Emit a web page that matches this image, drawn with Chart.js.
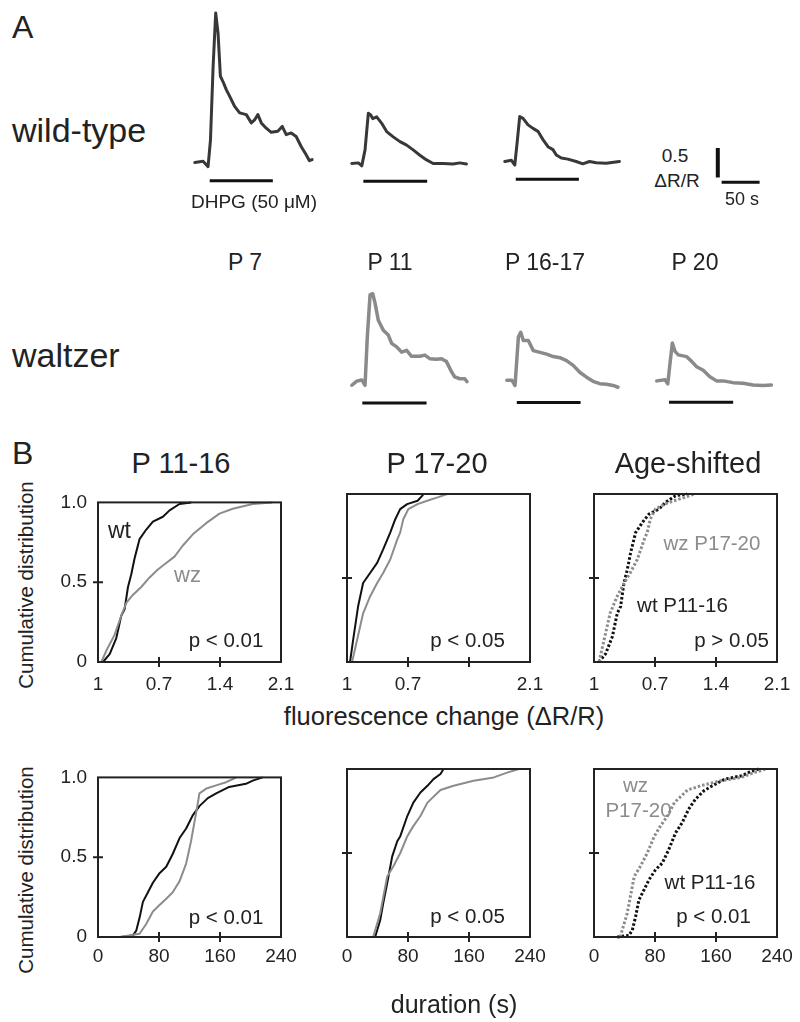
<!DOCTYPE html>
<html>
<head>
<meta charset="utf-8">
<script src="https://cdn.jsdelivr.net/npm/chart.js@4.4.1/dist/chart.umd.min.js"></script>
<style>
  body { margin: 0; background: #fff; }
  #fig { position: relative; width: 800px; height: 1022px; overflow: hidden; background: #fff;
         font-family: "Liberation Sans", Arial, sans-serif; color: #222; }
  #fig canvas { position: absolute; }
  .lbl { position: absolute; white-space: nowrap; line-height: 1; transform: translate(-50%, -50%); }
  .lbl.left { transform: translate(0, -50%); }
  .lbl.rot { transform: translate(-50%, -50%) rotate(-90deg); }
  .lbl.gray { color: #8c8c8c; }
</style>
</head>
<body>
<div id="fig"></div>
<script>
const FONT = '"Liberation Sans", Arial, sans-serif';
Chart.defaults.font.family = FONT;
Chart.defaults.color = '#222';

// Panel A traces: [time (s), ΔR/R]
const wtP7 = [[0,0],[10.9,0.02],[17.5,-0.07],[20.7,0.38],[24.2,1.63],[27.6,2.53],[30.7,2.19],[33.8,1.46],[37.2,1.37],[41.7,1.23],[46.1,1.12],[52.6,0.95],[59.2,0.84],[68,0.81],[74.6,0.67],[78.9,0.72],[83.3,0.81],[87.8,0.67],[94.3,0.58],[100.9,0.51],[109.6,0.53],[115.4,0.61],[120.7,0.47],[127.2,0.5],[133.8,0.44],[140.4,0.27],[147,0.13],[151.3,0.03],[154.9,0.05]];
const wtP11 = [[0,0],[8.7,0.01],[13.2,-0.04],[17.5,0.23],[21.8,0.85],[25,0.82],[27.6,0.76],[32.9,0.79],[39.5,0.68],[46,0.54],[54.7,0.45],[63.6,0.37],[72.4,0.31],[81,0.23],[89.9,0.14],[98.7,0.06],[107.4,0],[120.5,0],[133.7,-0.01],[142.5,0.01],[151.3,-0.01]];
const wtP1617 = [[0,0],[8.8,0.02],[13.2,-0.06],[16.7,0.37],[19.7,0.76],[24.1,0.73],[30.7,0.62],[37.2,0.56],[43.8,0.51],[50.4,0.37],[57,0.25],[63.6,0.2],[68,0.11],[74.6,0.06],[83.3,0.04],[94.3,0],[103,-0.04],[111.8,0],[120.7,-0.02],[133.8,-0.03],[151.3,0]];
const wzP11 = [[0,-0.03],[6.6,0.04],[13.2,0.06],[17.5,-0.03],[20.5,0.79],[24.1,1.5],[27.6,1.52],[30.7,1.36],[35,1.07],[41.6,0.9],[48.2,0.82],[52.6,0.68],[59.2,0.62],[65.8,0.53],[72.4,0.56],[78.9,0.46],[89.9,0.46],[96.4,0.48],[103,0.42],[111.8,0.41],[118.4,0.42],[125,0.37],[131.6,0.2],[135.9,0.11],[142.5,0.08],[149.1,0.08],[152.1,0.03]];
const wzP1617 = [[0,0.09],[6.6,0.09],[10.9,0],[15.3,0.82],[18.4,0.9],[21.8,0.76],[28.4,0.76],[35,0.59],[43.8,0.56],[52.6,0.53],[61.3,0.49],[70.1,0.47],[78.9,0.42],[87.6,0.34],[96.7,0.22],[105.3,0.14],[113.9,0.07],[122.8,0.03],[131.6,0.02],[140.3,0],[146.8,-0.03]];
const wzP20 = [[0,0.01],[10.9,0.03],[14.5,-0.04],[17.5,0.31],[20.5,0.65],[24.1,0.51],[28.4,0.45],[39.5,0.42],[46,0.34],[52.6,0.25],[61.3,0.19],[70.1,0.08],[78.9,0.01],[87.6,0.01],[100.8,-0.02],[113.9,-0.03],[127.1,-0.06],[140.3,-0.07],[151.3,-0.06]];

// DHPG application windows [start, end] (s)
const stimWtP7 = [19.7, 103];
const stimWtP11 = [15.3, 99.5];
const stimWtP1617 = [14.5, 97.8];
const stimWzP11 = [13.9, 98.7];
const stimWzP1617 = [13.2, 97.4];
const stimWzP20 = [16.2, 100.8];

// scale bars: 0.5 ΔR/R and 50 s
const scaleV = [[0, 0.08], [0, 0.58]];
const scaleH = [[5, 0], [55, 0]];

// Panel B cumulative distributions: [value, cumulative fraction]
const ampWtP1116 = [[0.057,0],[0.134,0.05],[0.21,0.15],[0.267,0.29],[0.305,0.33],[0.344,0.47],[0.382,0.55],[0.42,0.65],[0.439,0.69],[0.477,0.77],[0.554,0.83],[0.63,0.88],[0.745,0.91],[0.821,0.95],[0.935,0.99],[1.07,1]];
const ampWzP1116 = [[0.038,0],[0.095,0.07],[0.19,0.17],[0.267,0.29],[0.325,0.37],[0.4,0.42],[0.496,0.47],[0.592,0.53],[0.687,0.58],[0.783,0.62],[0.878,0.66],[0.974,0.73],[1.088,0.8],[1.241,0.87],[1.394,0.93],[1.546,0.96],[1.775,0.99],[2.0,1]];
const ampWtP1720 = [[0.035,0],[0.07,0.13],[0.127,0.33],[0.185,0.47],[0.265,0.53],[0.346,0.59],[0.415,0.67],[0.496,0.77],[0.554,0.85],[0.61,0.91],[0.69,0.94],[0.81,0.96],[0.865,0.99],[0.877,1]];
const ampWzP1720 = [[0.058,0],[0.115,0.13],[0.185,0.29],[0.265,0.39],[0.346,0.47],[0.415,0.53],[0.496,0.61],[0.577,0.73],[0.61,0.77],[0.646,0.85],[0.704,0.91],[0.81,0.94],[0.92,0.96],[1.04,0.98],[1.15,1]];
const durWtP1116 = [[30.5,0],[45.8,0.01],[50.2,0.04],[54.5,0.12],[58.9,0.22],[65.5,0.28],[72,0.34],[80.7,0.4],[89.5,0.44],[98,0.52],[107,0.62],[115.6,0.68],[124,0.76],[133,0.82],[144,0.87],[155,0.9],[172,0.94],[194,0.96],[203,0.98],[216,1]];
const durWzP1116 = [[28,0],[54.5,0.02],[63,0.08],[72,0.16],[80.7,0.2],[89.5,0.24],[98,0.28],[107,0.35],[115.6,0.46],[122,0.6],[126.5,0.72],[131,0.84],[133,0.9],[142,0.93],[155,0.95],[168,0.97],[177,0.99],[181,1]];
const durWtP1720 = [[27.7,0],[36.9,0],[43.5,0.1],[47.5,0.2],[52.7,0.32],[59.3,0.48],[65.9,0.57],[69.9,0.6],[79.1,0.72],[87,0.8],[96.3,0.86],[105.5,0.9],[113.4,0.94],[122.6,0.97],[126.6,1]];
const durWzP1720 = [[34.3,0],[43.5,0.14],[52.7,0.36],[60.7,0.42],[69.9,0.5],[79.1,0.6],[87,0.66],[96.3,0.72],[105.5,0.8],[122.6,0.875],[139.8,0.9],[166,0.93],[192.5,0.95],[211,0.98],[225.5,1]];

// tick values and labels
const ampTicks = [0, 0.7, 1.4, 2.1];
const ampTickLabels = ['1', '0.7', '1.4', '2.1'];
const ampTickLabelsMid = ['1', '0.7', '', '2.1'];
const durTicks = [0, 80, 160, 240];
const durTickLabels = ['0', '80', '160', '240'];
const cdfTicks = [0, 0.5, 1];
const cdfTickLabels = ['0', '0.5', '1.0'];

const fig = document.getElementById('fig');

function addCanvas(left, top, w, h) {
  const c = document.createElement('canvas');
  c.width = w; c.height = h;
  c.style.left = left + 'px'; c.style.top = top + 'px';
  c.style.width = w + 'px'; c.style.height = h + 'px';
  fig.appendChild(c);
  return c;
}
const pts = arr => arr.map(p => ({ x: p[0], y: p[1] }));
const line = (data, color, width, extra) => Object.assign({ data: pts(data), showLine: true, borderColor: color, borderWidth: width, pointRadius: 0, clip: false, borderJoinStyle: 'round' }, extra || {});

const bareOpts = (xmin, xmax, ymin, ymax) => ({
  responsive: false, animation: false, devicePixelRatio: 1,
  layout: { padding: 0 },
  plugins: { legend: { display: false }, tooltip: { enabled: false } },
  scales: { x: { type: 'linear', display: false, min: xmin, max: xmax }, y: { display: false, min: ymin, max: ymax } }
});

// --- panel A ---
const PX_S = 0.76, PX_U = 59;
const T_MIN = -5, T_MAX = 160, V_MIN = -0.5, V_MAX = 2.7;

function trace(data, stim, x0, base, color, width, barLevel) {
  const w = Math.round((T_MAX - T_MIN) * PX_S), h = Math.round((V_MAX - V_MIN) * PX_U);
  const c = addCanvas(x0 + T_MIN * PX_S, base - V_MAX * PX_U, w, h);
  new Chart(c, {
    type: 'scatter',
    data: { datasets: [
      line(data, color, width, { borderCapStyle: 'round' }),
      line(stim.map(t => [t, barLevel]), '#111', 3)
    ] },
    options: bareOpts(T_MIN, T_MAX, V_MIN, V_MAX)
  });
}

trace(wtP7, stimWtP7, 195, 162.7, '#383838', 3, -0.31);
trace(wtP11, stimWtP11, 351.7, 163.3, '#383838', 3, -0.30);
trace(wtP1617, stimWtP1617, 505, 161.7, '#383838', 3, -0.30);
trace(wzP11, stimWzP11, 351.7, 383.3, '#8a8a8a', 3.5, -0.33);
trace(wzP1617, stimWzP1617, 506.7, 385, '#8a8a8a', 3.5, -0.29);
trace(wzP20, stimWzP20, 656.7, 381.5, '#8a8a8a', 3.5, -0.35);

(function scaleBar() {
  const c = addCanvas(718 - 5 * PX_S, 182 - 0.8 * PX_U, 50, 59);
  new Chart(c, {
    type: 'scatter',
    data: { datasets: [line(scaleV, '#111', 4), line(scaleH, '#111', 3)] },
    options: bareOpts(-5, 60.8, -0.2, 0.8)
  });
})();

// --- panel B ---
const framePlugin = {
  id: 'frame',
  afterDatasetsDraw(chart, args, opts) {
    const { ctx, chartArea: a, scales: { x, y } } = chart;
    ctx.save();
    ctx.strokeStyle = '#222';
    ctx.lineWidth = 2;
    ctx.strokeRect(a.left, a.top, a.right - a.left, a.bottom - a.top);
    ctx.beginPath();
    (opts.innerX || []).forEach(v => { const px = x.getPixelForValue(v); ctx.moveTo(px, a.bottom - 5); ctx.lineTo(px, a.bottom + 5); });
    (opts.innerY || []).forEach(v => { const py = y.getPixelForValue(v); ctx.moveTo(a.left - 5, py); ctx.lineTo(a.left + 5, py); });
    ctx.stroke();
    ctx.restore();
  }
};

const PW = 183, PH = 168;
function cdf(left, top, series, xTicks, xLabels, showY, labelPad) {
  const padL = 50, padT = 14, padR = 26, padB = 36;
  const c = addCanvas(left - padL, top - padT, PW + padL + padR, PH + padT + padB);
  new Chart(c, {
    type: 'scatter',
    data: { datasets: series },
    options: {
      responsive: false, animation: false, devicePixelRatio: 1,
      layout: { padding: { left: 10, top: padT, right: padR, bottom: 0 } },
      plugins: { legend: { display: false }, tooltip: { enabled: false },
                 frame: { innerX: xTicks.slice(1, -1), innerY: [0.5] } },
      scales: {
        x: {
          type: 'linear', min: xTicks[0], max: xTicks[xTicks.length - 1],
          afterBuildTicks: s => { s.ticks = xTicks.map(v => ({ value: v })); },
          afterFit: s => { s.height = padB; },
          grid: { display: false, drawTicks: false }, border: { display: false },
          ticks: { padding: labelPad, autoSkip: false, maxRotation: 0, font: { size: 19 }, color: '#222',
                   callback: (v, i) => xLabels[i] }
        },
        y: {
          min: 0, max: 1,
          afterBuildTicks: s => { s.ticks = cdfTicks.map(v => ({ value: v })); },
          afterFit: s => { s.width = 40; },
          grid: { display: false, drawTicks: false }, border: { display: false },
          ticks: { display: showY, padding: 11, font: { size: 19 }, color: '#222',
                   callback: (v, i) => cdfTickLabels[i] }
        }
      }
    },
    plugins: [framePlugin]
  });
}

const BLACK = '#111', GRAY = '#8c8c8c';
const dotted = { borderDash: [2.5, 2], borderCapStyle: 'butt' };
const colX = [98.3, 347, 594.3];
const rowY = [494, 769];

cdf(colX[0], rowY[0], [line(ampWzP1116, GRAY, 2), line(ampWtP1116, BLACK, 2)], ampTicks, ampTickLabels, true, 11.5);
cdf(colX[1], rowY[0], [line(ampWzP1720, GRAY, 2), line(ampWtP1720, BLACK, 2)], ampTicks, ampTickLabelsMid, false, 11.5);
cdf(colX[2], rowY[0], [line(ampWzP1720, GRAY, 3, dotted), line(ampWtP1116, BLACK, 3, dotted)], ampTicks, ampTickLabels, false, 11.5);
cdf(colX[0], rowY[1], [line(durWzP1116, GRAY, 2), line(durWtP1116, BLACK, 2)], durTicks, durTickLabels, true, 8.5);
cdf(colX[1], rowY[1], [line(durWzP1720, GRAY, 2), line(durWtP1720, BLACK, 2)], durTicks, durTickLabels, false, 8.5);
cdf(colX[2], rowY[1], [line(durWzP1720, GRAY, 3, dotted), line(durWtP1116, BLACK, 3, dotted)], durTicks, durTickLabels, false, 8.5);

// --- text ---
function label(txt, x, y, size, cls) {
  const d = document.createElement('div');
  d.className = 'lbl ' + (cls || '');
  d.textContent = txt;
  d.style.left = x + 'px';
  d.style.top = y + 'px';
  d.style.fontSize = size + 'px';
  fig.appendChild(d);
}

label('A', 12, 26.5, 32, 'left');
label('wild-type', 12, 130, 34, 'left');
label('waltzer', 12, 355, 34, 'left');
label('DHPG (50 μM)', 254, 201, 19);
label('0.5', 675, 155, 19);
label('ΔR/R', 677, 180, 19);
label('50 s', 742, 199, 18);
label('P 7', 245, 262, 23);
label('P 11', 390, 262, 23);
label('P 16-17', 545, 262, 23);
label('P 20', 695, 262, 23);

label('B', 12, 452.5, 32, 'left');
label('P 11-16', 181, 462.5, 29);
label('P 17-20', 437, 462.5, 29);
label('Age-shifted', 688, 462.5, 29);
label('Cumulative distribution', 26, 585, 20.5, 'rot');
label('Cumulative distribution', 26, 870, 20.5, 'rot');
label('fluorescence change (ΔR/R)', 444, 717, 25.5);
label('duration (s)', 454, 1004, 25);

label('wt', 119.5, 530, 23);
label('wz', 187.5, 575, 22, 'gray');
label('p < 0.01', 226, 640, 20.5);
label('p < 0.05', 467.5, 640, 20.5);
label('wz P17-20', 712, 542.5, 20.5, 'gray');
label('wt P11-16', 682.5, 604.5, 20.5);
label('p > 0.05', 731.5, 640, 20.5);

label('p < 0.01', 226, 917, 20.5);
label('p < 0.05', 467.5, 915.5, 20.5);
label('wz', 635.5, 785, 20.5, 'gray');
label('P17-20', 638.5, 810, 20.5, 'gray');
label('wt P11-16', 710, 881.5, 20.5);
label('p < 0.01', 713.5, 915.5, 20.5);
</script>
</body>
</html>
